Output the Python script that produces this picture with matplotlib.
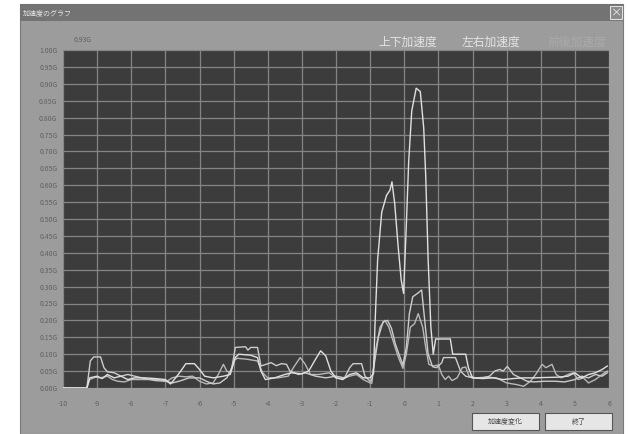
import matplotlib.pyplot as plt
from matplotlib.patches import Rectangle

plt.rcParams['font.family'] = ['Noto Sans CJK JP', 'DejaVu Sans']

# vertical (上下) acceleration
a_x = [-10, -9.3, -9.22, -9.0, -8.85, -8.7, -8.5, -8.3, -8.1, -7.9, -7.6, -7.3, -7.0, -6.85,
       -6.7, -6.55, -6.4, -6.15, -6.0, -5.85, -5.6, -5.3, -5.1, -4.95, -4.85, -4.5, -4.3, -4.2,
       -4.07, -3.8, -3.5, -3.3, -3.0, -2.8, -2.6, -2.45, -2.3, -2.15, -2.0, -1.8, -1.6, -1.4,
       -1.2, -1.0, -0.9, -0.86, -0.78, -0.66, -0.52, -0.42, -0.36, -0.28, -0.18, -0.09, -0.02,
       0.06, 0.13, 0.22, 0.35, 0.47, 0.57, 0.63, 0.70, 0.78, 0.85, 0.92, 1.35, 1.42, 1.8, 1.88,
       2.0, 2.3, 2.6, 2.9, 3.2, 3.5, 3.8, 4.1, 4.5, 4.8, 5.0, 5.2, 5.4, 5.6, 5.8, 5.95]
a_y = [0, 0, 0.03, 0.035, 0.028, 0.04, 0.03, 0.035, 0.025, 0.03, 0.03, 0.028, 0.025, 0.012,
       0.03, 0.05, 0.072, 0.072, 0.055, 0.035, 0.03, 0.035, 0.04, 0.09, 0.10, 0.097, 0.09, 0.05,
       0.025, 0.03, 0.04, 0.045, 0.042, 0.05, 0.085, 0.11, 0.095, 0.05, 0.03, 0.025, 0.04, 0.045,
       0.03, 0.03, 0.043, 0.18, 0.38, 0.52, 0.57, 0.585, 0.61, 0.546, 0.42, 0.32, 0.28,
       0.48, 0.67, 0.82, 0.887, 0.877, 0.77, 0.625, 0.38, 0.18, 0.10, 0.145, 0.145, 0.10, 0.10, 0.06,
       0.03, 0.028, 0.03, 0.025, 0.028, 0.03, 0.03, 0.031, 0.032, 0.035, 0.045, 0.03, 0.04, 0.045, 0.055, 0.065]

# lateral (左右) acceleration
b_x = [-10, -9.3, -9.2, -9.1, -8.9, -8.8, -8.7, -8.5, -8.3, -8.1, -7.9, -7.6, -7.3, -7.0, -6.8,
       -6.6, -6.3, -6.0, -5.8, -5.6, -5.4, -5.2, -5.05, -4.95, -4.65, -4.58, -4.5, -4.3, -4.2,
       -4.05, -3.9, -3.75, -3.6, -3.45, -3.35, -3.1, -2.9, -2.6, -2.3, -2.0, -1.75, -1.6, -1.5,
       -1.25, -1.15, -1.0, -0.95, -0.86, -0.76, -0.62, -0.49, -0.375, -0.26, -0.13, -0.04, 0.06,
       0.15, 0.25, 0.39, 0.51, 0.6, 0.70, 0.83, 0.95, 1.1, 1.15, 1.5, 1.65, 1.8, 2.0, 2.3, 2.5,
       2.65, 2.8, 2.9, 3.02, 3.2, 3.4, 3.6, 3.8, 4.1, 4.4, 4.7, 5.0, 5.2, 5.4, 5.6, 5.8, 5.95]
b_y = [0, 0, 0.08, 0.092, 0.092, 0.06, 0.048, 0.045, 0.035, 0.04, 0.035, 0.028, 0.022, 0.02, 0.015,
       0.02, 0.03, 0.03, 0.02, 0.012, 0.015, 0.03, 0.06, 0.12, 0.122, 0.112, 0.12, 0.12, 0.065,
       0.07, 0.075, 0.066, 0.072, 0.07, 0.05, 0.04, 0.045, 0.035, 0.03, 0.035, 0.03, 0.06, 0.072,
       0.072, 0.035, 0.02, 0.024, 0.083, 0.15, 0.196, 0.20, 0.177, 0.13, 0.093, 0.068, 0.12,
       0.22, 0.27, 0.28, 0.29, 0.20, 0.10, 0.063, 0.06, 0.075, 0.09, 0.09, 0.05, 0.035, 0.03, 0.03, 0.035,
       0.05, 0.055, 0.05, 0.064, 0.04, 0.03, 0.02, 0.018, 0.02, 0.02, 0.018, 0.025, 0.035, 0.03, 0.04, 0.035, 0.045]

# longitudinal (前後) acceleration
c_x = [-10, -9.3, -9.22, -9.05, -8.9, -8.7, -8.55, -8.4, -8.2, -8.0, -7.8, -7.5, -7.2, -6.95,
       -6.8, -6.6, -6.4, -6.2, -6.0, -5.8, -5.6, -5.45, -5.3, -5.2, -5.1, -5.0, -4.9, -4.6, -4.3,
       -4.15, -4.0, -3.7, -3.4, -3.25, -3.05, -2.9, -2.75, -2.5, -2.2, -2.0, -1.8, -1.6, -1.4,
       -1.2, -1.0, -0.95, -0.86, -0.71, -0.57, -0.45, -0.33, -0.18, -0.04, 0.06, 0.18, 0.30,
       0.41, 0.54, 0.63, 0.72, 0.85, 1.0, 1.1, 1.2, 1.3, 1.4, 1.55, 1.7, 1.8, 1.9, 2.1, 2.4, 2.7,
       3.0, 3.3, 3.5, 3.7, 3.85, 4.04, 4.15, 4.33, 4.45, 4.6, 4.8, 4.95, 5.1, 5.25, 5.4, 5.6, 5.8, 5.95]
c_y = [0, 0, 0.025, 0.032, 0.03, 0.035, 0.025, 0.02, 0.018, 0.025, 0.025, 0.025, 0.025, 0.02,
       0.03, 0.035, 0.033, 0.035, 0.02, 0.012, 0.015, 0.04, 0.07, 0.05, 0.045, 0.08, 0.088, 0.085, 0.08,
       0.045, 0.03, 0.03, 0.035, 0.06, 0.09, 0.07, 0.04, 0.04, 0.045, 0.03, 0.028, 0.035, 0.04,
       0.025, 0.015, 0.014, 0.10, 0.18, 0.20, 0.18, 0.14, 0.093, 0.058, 0.10, 0.18, 0.19,
       0.22, 0.18, 0.12, 0.07, 0.065, 0.068, 0.04, 0.025, 0.035, 0.022, 0.03, 0.06, 0.062, 0.035, 0.03, 0.032, 0.03,
       0.015, 0.01, 0.005, 0.02, 0.04, 0.07, 0.06, 0.07, 0.04, 0.03, 0.04, 0.045, 0.025, 0.03, 0.015, 0.025, 0.04, 0.05]

x_ticks = list(range(-10, 7))
y_ticks = [i * 0.05 for i in range(21)]
y_labels = [f'{v:.2f}G' for v in y_ticks]
series_names = ['上下加速度', '左右加速度', '前後加速度']

W, H = 628, 434
fig = plt.figure(figsize=(W / 100, H / 100), dpi=100)
fig.patch.set_facecolor('white')


def box(x0, y0, w, h, **kw):
    # rectangle given in pixels, top-left origin
    r = Rectangle((x0 / W, 1 - (y0 + h) / H), w / W, h / H, transform=fig.transFigure, **kw)
    fig.patches.append(r)
    return r


# window body and title bar (behind the axes)
box(20, 4, 603, 430, facecolor='#9c9c9c', edgecolor='#7a7a7a', lw=0.8, zorder=-10)
box(20, 4, 603, 17, facecolor='#737373', edgecolor='none', zorder=-9)
fig.text(23 / W, 1 - 13 / H, '加速度のグラフ', fontsize=5, color='#e8e8e8', va='center', ha='left')
box(610, 6, 12, 13, facecolor='#8a8a8a', edgecolor='#e0e0e0', lw=0.8, zorder=-8)
fig.text(616 / W, 1 - 12.5 / H, '×', fontsize=8, color='#f0f0f0', va='center', ha='center')

ax = fig.add_axes((63 / W, 1 - 388 / H, 546 / W, 338 / H))
ax.set_facecolor('#3c3c3c')
ax.plot(c_x, c_y, color='#b8b8b8', lw=1.0)
ax.plot(b_x, b_y, color='#cccccc', lw=1.0)
ax.plot(a_x, a_y, color='#e0e0e0', lw=1.0)
ax.set_xlim(-10, 6)
ax.set_ylim(0, 1.0)
ax.set_xticks(x_ticks)
ax.set_xticklabels([str(v) for v in x_ticks])
ax.set_yticks(y_ticks)
ax.set_yticklabels(y_labels)
ax.grid(True, color='#858585', lw=0.9)
ax.set_axisbelow(True)
ax.tick_params(length=0, labelsize=5, labelcolor='#606060')
ax.tick_params(axis='x', pad=9)
ax.tick_params(axis='y', pad=4)
for s in ax.spines.values():
    s.set_visible(False)

# peak value and series names
fig.text(83 / W, 1 - 40 / H, '0.93G', fontsize=5, color='#606060', ha='center', va='center')
name_cols = ['#e4e4e4', '#e4e4e4', '#aaaaaa']
name_x = [408, 491, 577]
for n, c, xx in zip(series_names, name_cols, name_x):
    fig.text(xx / W, 1 - 42 / H, n, fontsize=8.5, color=c, ha='center', va='center')

# buttons
for bx, label in [(472, '加速度変化'), (545, '終了')]:
    box(bx, 413, 67, 17, facecolor='#e6e6e6', edgecolor='#555555', lw=0.8)
    fig.text((bx + 33.5) / W, 1 - 421.5 / H, label, fontsize=5, color='#444444', ha='center', va='center')

fig.savefig('out.png', dpi=100)
